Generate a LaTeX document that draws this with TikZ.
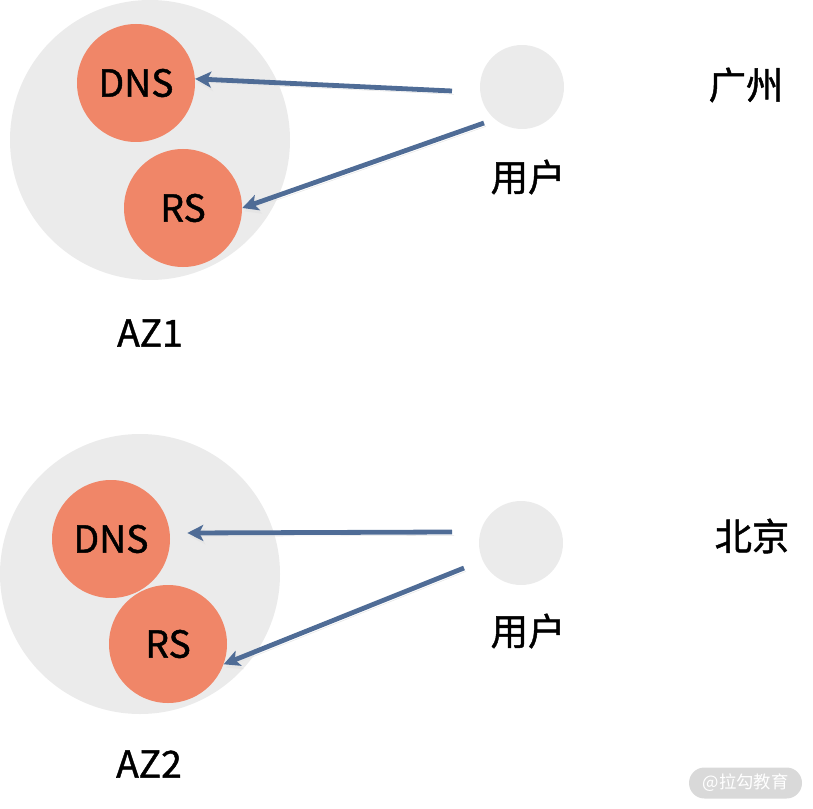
\documentclass[tikz,border=0pt]{standalone}
\usepackage{fontspec}
\setmainfont{Noto Sans CJK SC}
\newfontfamily\lblfont{Noto Sans CJK SC}[FakeBold=1.2]
\usetikzlibrary{arrows.meta, positioning, calc}
\definecolor{ZoneGray}{RGB}{235, 235, 235}
\definecolor{SrvOrange}{RGB}{240, 134, 104}
\definecolor{LinkBlue}{RGB}{79, 108, 150}
\definecolor{LogoGray}{RGB}{217, 217, 217}

\begin{document}
\begin{tikzpicture}[x=0.75pt, y=-0.75pt,
        zone/.style={circle, fill=ZoneGray, minimum size=210pt, inner sep=0pt},
        srv/.style={circle, fill=SrvOrange, minimum size=88.5pt, inner sep=0pt, font=\lblfont\fontsize{28pt}{32pt}\selectfont},
        usr/.style={circle, fill=ZoneGray, minimum size=63pt, inner sep=0pt},
        lbl/.style={inner sep=0pt, font=\lblfont\fontsize{28pt}{32pt}\selectfont},
        link/.style={-{Stealth[length=12pt, width=12pt, inset=3pt]}, line width=3.6pt, LinkBlue,
            preaction={draw=black!10, transform canvas={shift={(1.5pt,-2.5pt)}}}},
        logo/.style={rounded corners=11.6pt, fill=LogoGray, text=white, minimum width=84.75pt,
            minimum height=23.25pt, inner sep=0pt, font=\fontsize{13pt}{15pt}\selectfont}]
        \useasboundingbox (0,0) rectangle (813,809);

        % Guangzhou
        \node[zone] (az1) at (150,140) {};
        \node[srv] (dns1) at (136,83) {DNS};
        \node[srv] (rs1) at (183,208) {RS};
        \node[lbl] (az1l) at (150,333) {AZ1};
        \node[usr] (usr1) at (522,87) {};
        \node[lbl] (usr1l) at (528,177) {用户};
        \node[lbl] (city1) at (746,85) {广州};

        \coordinate (u1a) at (452,91);
        \coordinate (u1b) at (484,123);
        \draw[link] (u1a) -- (dns1.4);
        \draw[link] (u1b) -- (rs1.east);

        % Beijing
        \node[zone] (az2) at (140,574) {};
        \node[srv] (dns2) at (111,539) {DNS};
        \node[srv] (rs2) at (168,644) {RS};
        \node[lbl] (az2l) at (149,764) {AZ2};
        \node[usr] (usr2) at (521,543) {};
        \node[lbl] (usr2l) at (528,631) {用户};
        \node[lbl] (city2) at (752,536) {北京};

        \coordinate (u2a) at (452,532);
        \coordinate (u2b) at (464,568);
        \draw[link] (u2a) -- ($(dns2.east)+(17,-6)$);
        \draw[link] (u2b) -- (rs2.-20);

        \node[logo] (wm) at (745.5,783) {@拉勾教育};
    \end{tikzpicture}
\end{document}
